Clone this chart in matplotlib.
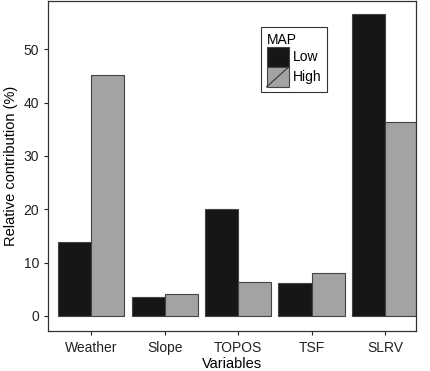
import matplotlib.pyplot as plt
import numpy as np
from matplotlib.patches import Patch
from matplotlib.legend_handler import HandlerPatch
from matplotlib.lines import Line2D

plt.rcParams['font.family'] = ['Liberation Sans', 'DejaVu Sans']

# data
variables = ["Weather", "Slope", "TOPOS", "TSF", "SLRV"]
low = [13.9, 3.6, 20.0, 6.2, 56.6]
high = [45.1, 4.1, 6.4, 8.1, 36.3]

fig = plt.figure(figsize=(4.3, 3.71), dpi=100)
ax = fig.add_axes([0.112, 0.108, 0.855, 0.889])

x = np.arange(len(variables))
w = 0.45
ax.bar(x - w / 2, low, w, color="#161616", edgecolor="#444444", linewidth=0.8)
ax.bar(x + w / 2, high, w, color="#a3a3a3", edgecolor="#444444", linewidth=0.8)

ax.set_xlim(-0.585, 4.42)
ax.set_ylim(-2.8, 59)
ax.set_yticks([0, 10, 20, 30, 40, 50])
ax.set_xticks(x)
ax.set_xticklabels(variables)
ax.tick_params(direction="out", length=3, labelsize=10, colors="#222222")
ax.tick_params(axis="x", pad=4)
ax.set_xlabel("Variables", fontsize=10.5, labelpad=2)
ax.set_ylabel("Relative contribution (%)", fontsize=10.5)
for s in ax.spines.values():
    s.set_color("#333333")
    s.set_linewidth(0.9)


class HighHandler(HandlerPatch):
    def create_artists(self, legend, orig_handle, xdescent, ydescent,
                       width, height, fontsize, trans):
        arts = super().create_artists(legend, orig_handle, xdescent, ydescent,
                                      width, height, fontsize, trans)
        ln = Line2D([-xdescent, -xdescent + width], [-ydescent, -ydescent + height],
                    color="#333333", linewidth=0.8, transform=trans)
        return arts + [ln]


h_low = Patch(facecolor="#161616", edgecolor="#444444", linewidth=0.8)
h_high = Patch(facecolor="#a3a3a3", edgecolor="#444444", linewidth=0.8)
leg = ax.legend([h_low, h_high], ["Low", "High"], title="MAP",
                loc="upper left", bbox_to_anchor=(0.579, 0.921),
                borderaxespad=0,
                handlelength=1.6, handleheight=1.85, labelspacing=0.0,
                handletextpad=0.3, borderpad=0.4, fontsize=10,
                title_fontsize=10, fancybox=False, framealpha=1,
                edgecolor="#333333", alignment="left",
                handler_map={h_high: HighHandler()})
leg.get_frame().set_linewidth(0.8)

fig.savefig("out.png", dpi=100)
